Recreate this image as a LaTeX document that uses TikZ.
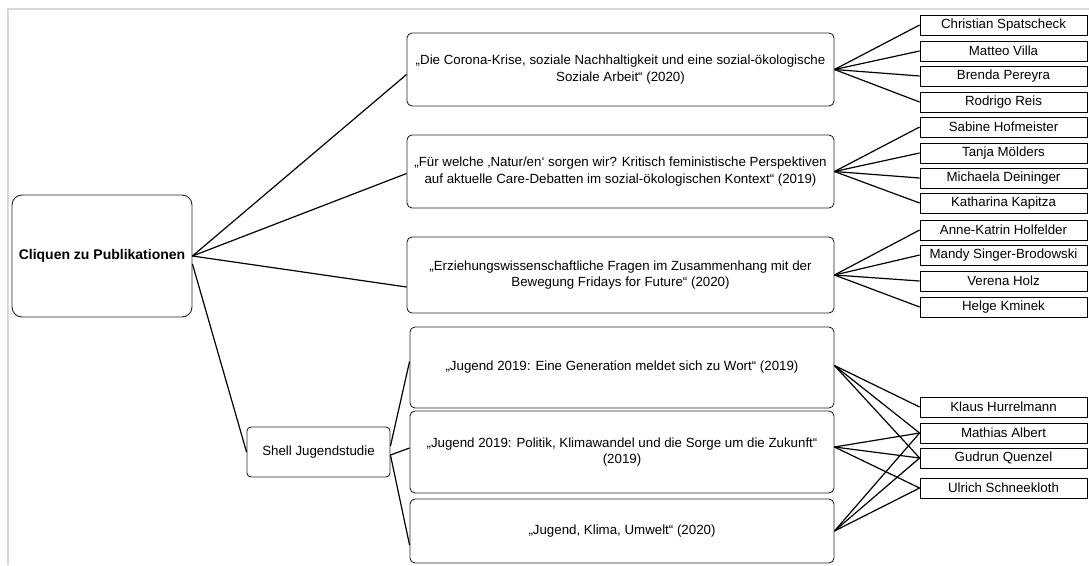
\documentclass[tikz,border=0pt]{standalone}
\usepackage{fontspec}
\setmainfont{Liberation Sans}
\begin{document}
\begin{tikzpicture}[x=1pt,y=-1pt,
  txt/.style={font=\fontsize{13.3}{16.5}\selectfont, align=center, text=black},
  pub/.style={txt, draw=black!85, line width=0.9pt, rounded corners=5pt, inner sep=0pt},
  author/.style={txt, draw=black, line width=0.8pt, inner sep=0pt, minimum width=167pt, minimum height=20pt},
  link/.style={draw=black, line width=1.2pt}]
\useasboundingbox (0,0) rectangle (1089,565);
\draw[black!15, line width=1.5pt] (8,565) -- (8,9) -- (1089,9);

% main node
\node[pub, rounded corners=10pt, minimum width=180pt, minimum height=122pt,
  font=\fontsize{14}{17}\selectfont\bfseries] (main) at (102,256) {Cliquen zu Publikationen};

% publications
\node[pub, minimum width=427pt, minimum height=73pt] (p1) at (620.5,69.5)
  {„Die Corona-Krise, soziale Nachhaltigkeit und eine sozial-ökologische\\Soziale Arbeit“ (2020)};
\node[pub, minimum width=427pt, minimum height=73pt] (p2) at (620.5,171.5)
  {„Für welche ‚Natur/en‘ sorgen wir? Kritisch feministische Perspektiven\\auf aktuelle Care-Debatten im sozial-ökologischen Kontext“ (2019)};
\node[pub, minimum width=427pt, minimum height=76pt] (p3) at (620.5,275)
  {„Erziehungswissenschaftliche Fragen im Zusammenhang mit der\\Bewegung Fridays for Future“ (2020)};
\node[pub, rounded corners=4pt, minimum width=143pt, minimum height=50pt] (shell) at (318.5,452) {Shell Jugendstudie};
\node[pub, minimum width=424pt, minimum height=81pt] (p4) at (622,367.5)
  {„Jugend 2019: Eine Generation meldet sich zu Wort“ (2019)};
\node[pub, minimum width=424pt, minimum height=82pt] (p5) at (622,452)
  {„Jugend 2019: Politik, Klimawandel und die Sorge um die Zukunft“\\(2019)};
\node[pub, minimum width=424pt, minimum height=64pt] (p6) at (622,531)
  {„Jugend, Klima, Umwelt“ (2020)};

% authors
\node[author] (a1) at (1003.5,25) {Christian Spatscheck};
\node[author] (a2) at (1003.5,51) {Matteo Villa};
\node[author] (a3) at (1003.5,76) {Brenda Pereyra};
\node[author] (a4) at (1003.5,102) {Rodrigo Reis};
\node[author] (b1) at (1003.5,127) {Sabine Hofmeister};
\node[author] (b2) at (1003.5,153) {Tanja Mölders};
\node[author] (b3) at (1003.5,178) {Michaela Deininger};
\node[author] (b4) at (1003.5,203) {Katharina Kapitza};
\node[author] (c1) at (1003.5,230) {Anne-Katrin Holfelder};
\node[author] (c2) at (1003.5,255) {Mandy Singer-Brodowski};
\node[author] (c3) at (1003.5,281) {Verena Holz};
\node[author] (c4) at (1003.5,307) {Helge Kminek};
\node[author] (klaus) at (1003.5,407) {Klaus Hurrelmann};
\node[author] (mathias) at (1003.5,433) {Mathias Albert};
\node[author] (gudrun) at (1003.5,458) {Gudrun Quenzel};
\node[author] (ulrich) at (1003.5,488) {Ulrich Schneekloth};

% left connectors
\draw[link] (main.east) -- ([yshift=-5pt]p1.west);
\draw[link] (main.east) -- ([yshift=-2pt]p2.west);
\draw[link] (main.east) -- ([yshift=-12pt]p3.west);
\draw[link] ([yshift=-8pt]main.east) -- (shell.west);
\draw[link] ([yshift=6pt]shell.east) -- ([yshift=6pt]p4.west);
\draw[link] ([yshift=-3pt]shell.east) -- ([yshift=4pt]p5.west);
\draw[link] ([yshift=-3pt]shell.east) -- ([yshift=-14pt]p6.west);

% right connectors
\foreach \a in {a1,a2,a3,a4} \draw[link] (p1.east) -- (\a.west);
\foreach \a in {b1,b2,b3,b4} \draw[link] (p2.east) -- (\a.west);
\foreach \a in {c1,c2,c3,c4} \draw[link] (p3.east) -- (\a.west);
\foreach \a in {klaus,mathias,gudrun} \draw[link] ([yshift=2pt]p4.east) -- (\a.west);
\foreach \a in {mathias,gudrun,ulrich} \draw[link] ([yshift=5pt]p5.east) -- (\a.west);
\foreach \a in {mathias,gudrun,ulrich} \draw[link] (p6.east) -- (\a.west);
\end{tikzpicture}
\end{document}
